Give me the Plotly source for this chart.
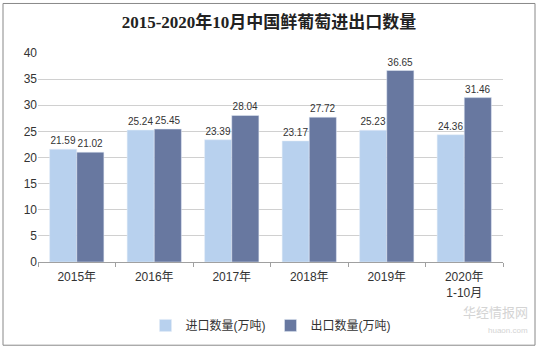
import plotly.graph_objects as go

categories = ["2015年", "2016年", "2017年", "2018年", "2019年", "2020年<br>1-10月"]
imports = [21.59, 25.24, 23.39, 23.17, 25.23, 24.36]
exports = [21.02, 25.45, 28.04, 27.72, 36.65, 31.46]
y_ticks = [0, 5, 10, 15, 20, 25, 30, 35, 40]

font_family = "Liberation Sans, Arial, Noto Sans CJK SC, sans-serif"

fig = go.Figure()
fig.add_trace(go.Bar(
    name="进口数量(万吨)", x=categories, y=imports,
    marker=dict(color="#B8D1EE"),
    text=[f"{v:.2f}" for v in imports], textposition="outside",
    textfont=dict(size=10, color="#333333"), cliponaxis=False,
))
fig.add_trace(go.Bar(
    name="出口数量(万吨)", x=categories, y=exports,
    marker=dict(color="#6878A0"),
    text=[f"{v:.2f}" for v in exports], textposition="outside",
    textfont=dict(size=10, color="#333333"), cliponaxis=False,
))

W, H = 538, 352
l, r, t, b = 38, 35, 53, 88
pw, ph = W - l - r, H - t - b

def px_x(x):
    return (x - l) / pw

def px_y(y):
    return (H - b - y) / ph

fig.update_layout(
    width=W, height=H,
    margin=dict(l=l, r=r, t=t, b=b),
    paper_bgcolor="white", plot_bgcolor="white",
    font=dict(family=font_family, size=12, color="#333333"),
    title=dict(text="<b>2015-2020年10月中国鲜葡萄进出口数量</b>",
               x=0.5, xanchor="center", y=1 - 22 / H, yanchor="middle",
               font=dict(family="Liberation Serif, Noto Sans CJK SC, serif", size=17, color="#222222")),
    barmode="group", bargap=0.3, bargroupgap=0,
    showlegend=True,
    legend=dict(orientation="h", x=0.5, xanchor="center",
                y=px_y(328), yanchor="middle",
                font=dict(size=12, color="#333333"),
                itemwidth=30, tracegroupgap=0),
    xaxis=dict(showline=True, linecolor="#A0A0A0", linewidth=1,
               ticks="outside", tickson="boundaries", ticklen=4,
               tickcolor="#A0A0A0",
               tickfont=dict(size=12, color="#333333"),
               ticklabelstandoff=4, showgrid=False),
    yaxis=dict(range=[0, 40], tickvals=y_ticks, showgrid=True,
               gridcolor="#D0D0D0", gridwidth=1, zeroline=False,
               showline=False, tickfont=dict(size=12, color="#333333"),
               ticks="", ticklen=0),
    shapes=[dict(type="rect", xref="paper", yref="paper",
                 x0=px_x(3), x1=px_x(535), y0=px_y(348), y1=px_y(3),
                 line=dict(color="#888888", width=1), layer="below")],
    annotations=[
        dict(text="华经情报网", xref="paper", yref="paper",
             x=px_x(530), y=px_y(326), xanchor="right", showarrow=False,
             font=dict(family="Noto Sans CJK SC, sans-serif", size=13, color="#D4D4D4")),
        dict(text="huaon.com", xref="paper", yref="paper",
             x=px_x(530), y=px_y(340), xanchor="right", showarrow=False,
             font=dict(size=8, color="#D4D4D4")),
    ],
)

fig.write_html("out.html")
